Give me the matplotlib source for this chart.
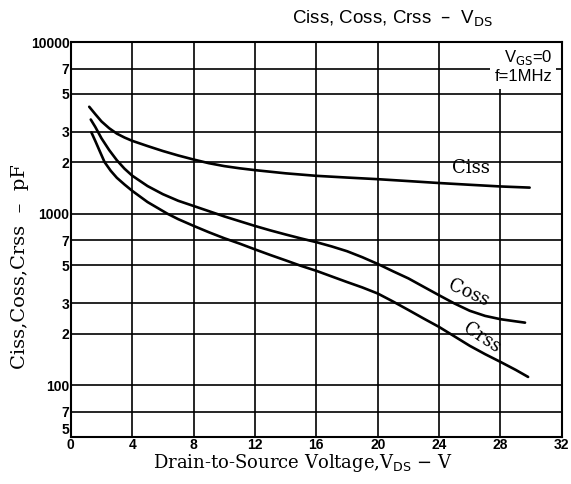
"""Ciss, Coss, Crss vs VDS capacitance chart."""
import matplotlib
matplotlib.use("Agg")
import matplotlib.pyplot as plt
from matplotlib.ticker import FixedLocator, FixedFormatter, NullLocator

ciss_v = [1.2, 1.6, 2.0, 2.5, 3.0, 3.5, 4.0, 5.0, 6.0, 7.0, 8.0, 9.0, 10.0, 11.0,
          12.0, 14.0, 16.0, 18.0, 20.0, 22.0, 24.0, 26.0, 28.0, 29.9]
ciss_c = [4200, 3800, 3450, 3150, 2930, 2780, 2660, 2480, 2320, 2185, 2070, 1970, 1895, 1840,
          1795, 1720, 1663, 1625, 1590, 1550, 1510, 1475, 1442, 1420]

coss_v = [1.3, 1.6, 2.0, 2.5, 3.0, 3.5, 4.0, 5.0, 6.0, 7.0, 8.0, 9.0, 10.0, 11.0,
          12.0, 13.0, 14.0, 15.0, 16.0, 17.0, 18.0, 19.0, 20.0, 21.0, 22.0, 23.0,
          24.0, 25.0, 26.0, 27.0, 28.0, 29.0, 29.6]
coss_c = [3540, 3200, 2750, 2350, 2050, 1830, 1667, 1450, 1300, 1190, 1110, 1035, 965, 905,
          849, 800, 757, 718, 683, 645, 605, 558, 510, 462, 420, 375,
          335, 300, 272, 254, 243, 236, 232]

crss_v = [1.34, 1.6, 1.9, 2.2, 2.6, 3.0, 3.5, 4.0, 5.0, 6.3, 7.0, 8.0, 9.0, 10.0,
          11.0, 12.0, 13.0, 14.0, 15.0, 16.0, 17.1, 18.0, 19.0, 20.0, 21.0, 22.0,
          23.0, 24.0, 25.0, 26.0, 27.0, 28.0, 29.0, 29.8]
crss_c = [2980, 2650, 2300, 2000, 1780, 1620, 1480, 1360, 1170, 1000, 930, 850, 780, 720,
          670, 620, 575, 535, 497, 465, 428, 400, 372, 343, 308, 275,
          245, 219, 193, 170, 152, 137, 123, 112]

x_ticks = [0, 4, 8, 12, 16, 20, 24, 28, 32]
y_ticks = [50, 70, 100, 200, 300, 500, 700, 1000, 2000, 3000, 5000, 7000, 10000]
y_labels = ["5", "7", "100", "2", "3", "5", "7", "1000", "2", "3", "5", "7", "10000"]

SERIF = ["DejaVu Serif"]
SANS = ["Liberation Sans", "DejaVu Sans"]

fig = plt.figure(figsize=(5.71, 4.84), dpi=100)
ax = fig.add_axes([0.124, 0.097, 0.86, 0.816])

ax.set_yscale("log")
ax.set_xlim(0, 32)
ax.set_ylim(50, 10000)

for xv in x_ticks:
    ax.axvline(xv, color="black", lw=1.2, zorder=1)
for yv in y_ticks:
    ax.axhline(yv, color="black", lw=1.2, zorder=1)

for v, c in [(ciss_v, ciss_c), (coss_v, coss_c), (crss_v, crss_c)]:
    ax.plot(v, c, color="black", lw=1.9, solid_capstyle="round",
            solid_joinstyle="round", zorder=3)

ax.xaxis.set_major_locator(FixedLocator(x_ticks))
ax.yaxis.set_major_locator(FixedLocator(y_ticks))
ax.yaxis.set_major_formatter(FixedFormatter(y_labels))
ax.yaxis.set_minor_locator(NullLocator())
ax.tick_params(length=0, pad=1, labelsize=10)
for lab in ax.get_xticklabels() + ax.get_yticklabels():
    lab.set_fontweight("bold")
    lab.set_family(SANS)
ax.get_yticklabels()[0].set_va("bottom")

for s in ax.spines.values():
    s.set_linewidth(1.5)
    s.set_zorder(5)

ax.text(26.1, 1850, "Ciss", family=SERIF, fontsize=13, ha="center", va="center")
ax.text(25.9, 346, "Coss", family=SERIF, fontsize=13, ha="center", va="center", rotation=-24)
ax.text(26.8, 188, "Crss", family=SERIF, fontsize=13, ha="center", va="center", rotation=-33)

ax.text(0.98, 0.985, "V$_{\\rm GS}$=0\nf=1MHz", transform=ax.transAxes,
        ha="right", va="top", fontsize=12, family=SANS, linespacing=1.2,
        bbox=dict(facecolor="white", edgecolor="none", pad=3), zorder=4)

fig.text(0.688, 0.962, "Ciss, Coss, Crss  –  V$_{\\rm DS}$", ha="center", va="center",
         fontsize=13.5, family=SANS)
fig.text(0.531, 0.043, "Drain-to-Source Voltage,V$_{\\rm DS}$ − V", ha="center", va="center",
         fontsize=13, family=SERIF)
fig.text(0.035, 0.45, "Ciss,Coss,Crss  –  pF", ha="center", va="center",
         rotation=90, fontsize=14, family=SERIF)

fig.savefig("out.png", dpi=100)
